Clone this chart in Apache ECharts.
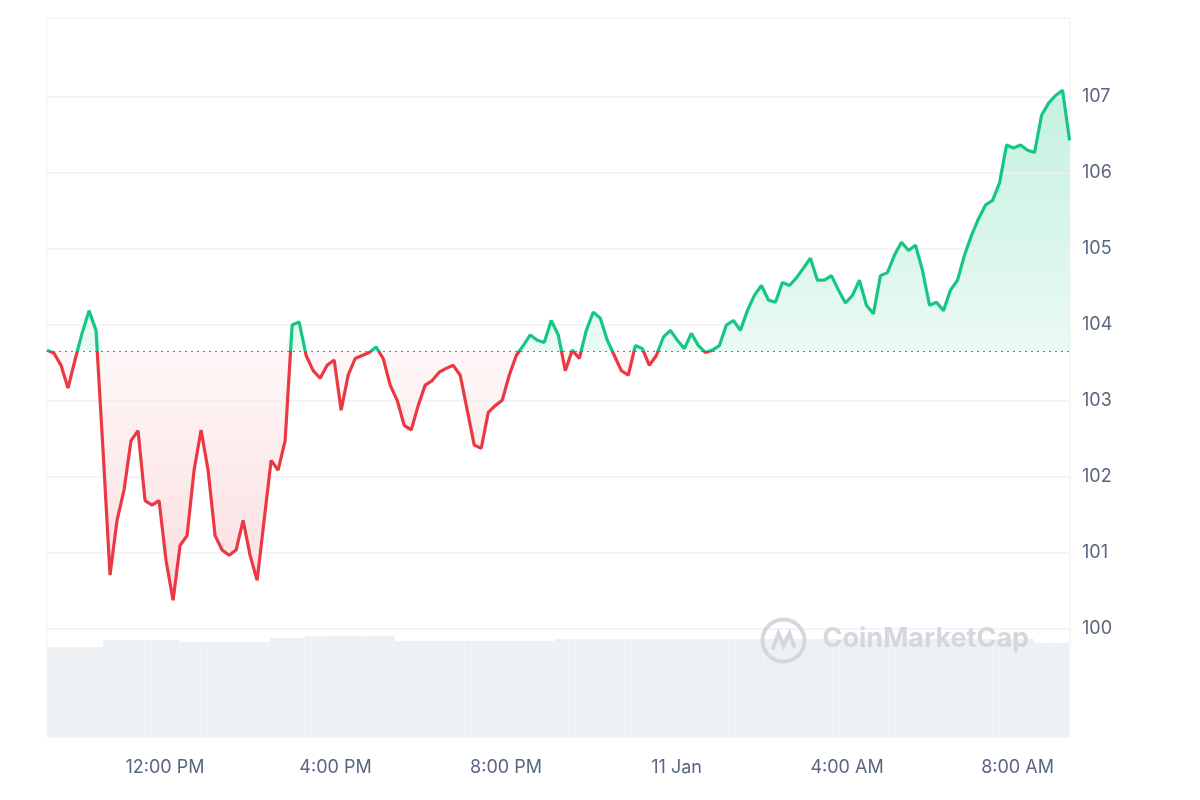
<!DOCTYPE html>
<html><head><meta charset="utf-8">
<script src="https://cdn.jsdelivr.net/npm/echarts@6/dist/echarts.min.js"></script>
<style>html,body{margin:0;padding:0;background:#fff}#c{width:1200px;height:800px}</style>
</head><body><div id="c"></div>
<script>
const baseline = 103.65;
const startHour = 9.232;
const stepHour = 0.1643;
const prices = [103.66,103.62,103.46,103.16,103.53,103.88,104.18,103.92,102.34,100.70,
101.42,101.82,102.47,102.60,101.68,101.62,101.68,100.89,100.37,101.09,
101.22,102.08,102.61,102.08,101.22,101.03,100.96,101.03,101.42,100.96,
100.63,101.42,102.21,102.08,102.47,103.99,104.03,103.59,103.39,103.29,
103.46,103.53,102.87,103.33,103.55,103.59,103.63,103.70,103.55,103.20,
103.00,102.67,102.61,102.93,103.20,103.26,103.37,103.42,103.46,103.33,
102.87,102.41,102.37,102.84,102.93,103.00,103.33,103.59,103.72,103.86,
103.79,103.76,104.05,103.86,103.39,103.66,103.55,103.92,104.16,104.08,
103.79,103.59,103.39,103.33,103.72,103.68,103.46,103.59,103.83,103.92,
103.79,103.68,103.88,103.72,103.63,103.66,103.72,103.99,104.05,103.92,
104.18,104.38,104.51,104.32,104.29,104.55,104.51,104.61,104.74,104.87,
104.58,104.58,104.64,104.45,104.28,104.38,104.58,104.25,104.14,104.64,
104.68,104.91,105.08,104.97,105.04,104.71,104.25,104.29,104.18,104.45,
104.58,104.91,105.17,105.39,105.57,105.63,105.86,106.36,106.32,106.36,
106.29,106.26,106.75,106.91,107.01,107.08,106.42];
const volumes = [90,90,90,90,90,90,90,90,97,97,97,97,97,97,97,97,97,97,97,95,
95,95,95,95,95,95,95,95,95,95,95,95,99,99,99,99,99,101,101,101,
101,101,101,101,101,101,101,101,101,101,96,96,96,96,96,96,96,96,96,96,
96,96,96,96,96,96,96,96,96,96,96,96,96,98,98,98,98,98,98,98,
98,98,98,98,98,98,98,98,98,98,98,98,98,98,98,98,98,98,98,98,
98,98,98,98,98,98,98,98,98,98,98,98,98,98,98,98,98,98,98,98,
98,98,98,98,98,98,98,98,98,98,98,98,98,98,98,98,98,98,98,98,
98,98,94,94,94,94,94];
const tickHours = [12,16,20,24,28,32];
const tickLabels = ['12:00 PM','4:00 PM','8:00 PM','11 Jan','4:00 AM','8:00 AM'];
const yTicks = [100,101,102,103,104,105,106,107];

const xs = prices.map((_, i) => startHour + i * stepHour);
const lineData = prices.map((v, i) => [xs[i], v]);
const upData = prices.map((v, i) => [xs[i], Math.max(v, baseline)]);
const downData = prices.map((v, i) => [xs[i], Math.min(v, baseline)]);
const volData = volumes.map((v, i) => [xs[i], v]);
const xMax = startHour + (prices.length - 1) * stepHour + 0.01;

const yMin = 98.57, yMax = 108.03, gridTop = 18, gridBottom = 737;
const basePx = gridTop + (yMax - baseline) / (yMax - yMin) * (gridBottom - gridTop);
const lineColor = new echarts.graphic.LinearGradient(0, 0, 0, 800, [
  {offset: 0, color: '#16c784'}, {offset: basePx / 800, color: '#16c784'},
  {offset: basePx / 800, color: '#ea3943'}, {offset: 1, color: '#ea3943'}], true);
const upArea = new echarts.graphic.LinearGradient(0, 90, 0, basePx, [
  {offset: 0, color: 'rgba(22,199,132,0.36)'}, {offset: 1, color: 'rgba(22,199,132,0.13)'}], true);
const downArea = new echarts.graphic.LinearGradient(0, basePx, 0, 600, [
  {offset: 0, color: 'rgba(234,57,67,0.06)'}, {offset: 1, color: 'rgba(234,57,67,0.24)'}], true);

const gridLines = yTicks.map(v => ({yAxis: v, lineStyle: {color: '#eef0f3', type: 'solid', width: 1.5}}));

const chart = echarts.init(document.getElementById('c'));
chart.setOption({
  animation: false,
  grid: [{left: 47, right: 130, top: 18, bottom: 63, show: true, borderColor: '#eef0f3', borderWidth: 1},
         {left: 51, right: 134, top: 18, bottom: 63}],
  xAxis: [{type: 'value', min: startHour, max: xMax, gridIndex: 0,
    axisLine: {show: false}, axisTick: {show: false}, splitLine: {show: false},
    axisLabel: {customValues: tickHours, formatter: v => tickLabels[tickHours.indexOf(Math.round(v))] || '',
      color: '#58667e', fontSize: 18, fontFamily: 'Inter', margin: 22}},
    {type: 'value', min: startHour, max: xMax, gridIndex: 1, show: false}],
  yAxis: [{type: 'value', position: 'right', min: yMin, max: yMax, gridIndex: 0,
    axisLine: {show: false}, axisTick: {show: false}, splitLine: {show: false},
    axisLabel: {customValues: yTicks, color: '#58667e', fontSize: 18, fontFamily: 'Inter', margin: 12}},
    {type: 'value', min: 0, max: 719, gridIndex: 1, show: false}],
  graphic: [
    {type: 'group', left: 760, top: 617, z: 100, silent: true, children: [
      {type: 'circle', z: 100, shape: {cx: 23, cy: 23, r: 21}, style: {fill: 'none', stroke: '#d4d8de', lineWidth: 4}},
      {type: 'polyline', z: 100, shape: {points: [[12,32],[18,16],[23,28],[29,16],[34,30]]}, style: {fill: 'none', stroke: '#d4d8de', lineWidth: 4}},
      {type: 'text', z: 100, x: 62, y: 8, style: {text: 'CoinMarketCap', fill: '#d4d8de', font: 'bold 27px Inter'}}
    ]}
  ],
  series: [
    {type: 'bar', xAxisIndex: 1, yAxisIndex: 1, data: volData, barWidth: 7, z: 1,
      itemStyle: {color: '#eef1f4'}, silent: true},
    {type: 'line', data: upData, showSymbol: false, z: 2, lineStyle: {width: 0}, silent: true,
      areaStyle: {origin: baseline, color: upArea},
      markLine: {silent: true, symbol: 'none', label: {show: false}, data: gridLines}},
    {type: 'line', data: downData, showSymbol: false, z: 2, lineStyle: {width: 0}, silent: true,
      areaStyle: {origin: baseline, color: downArea}},
    {type: 'line', data: lineData, showSymbol: false, z: 5, lineStyle: {width: 3.2, color: lineColor},
      markLine: {silent: true, symbol: 'none', label: {show: false},
        lineStyle: {color: '#7d7d7d', type: [2, 4], width: 1.2}, data: [{yAxis: baseline}]}}
  ]
});
</script></body></html>
